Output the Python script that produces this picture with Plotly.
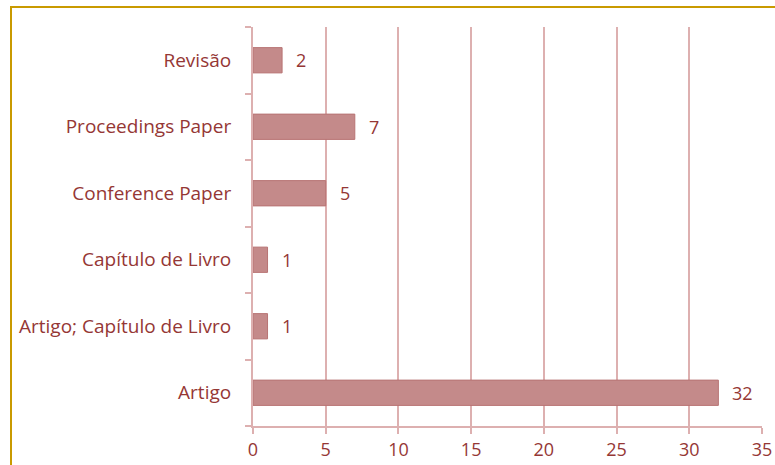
import plotly.graph_objects as go

# Document types and their counts
categories = ["Artigo", "Artigo; Capítulo de Livro", "Capítulo de Livro",
              "Conference Paper", "Proceedings Paper", "Revisão"]
counts = [32, 1, 1, 5, 7, 2]
x_ticks = [0, 5, 10, 15, 20, 25, 30, 35]

W, H = 775, 465
L, R, T, B = 253, 13, 27, 39
text_color = "#953735"
grid_color = "#DDB0B0"
font_family = "'Open Sans', Lato, sans-serif"

fig = go.Figure(go.Bar(
    y=categories,
    x=counts,
    orientation="h",
    width=0.38,
    marker=dict(color="#C48A8A", line=dict(color="#B87474", width=1)),
    hoverinfo="skip",
))

# value labels to the right of each bar
for cat, v in zip(categories, counts):
    fig.add_annotation(
        x=v, y=cat, text=str(v), showarrow=False,
        xanchor="left", xshift=12,
        font=dict(color=text_color, size=18, family=font_family),
    )

pw = W - L - R
ph = H - T - B


def px_x(p):
    return (p - L) / pw


def px_y(p):
    return 1 - (p - T) / ph


fig.update_layout(
    width=W, height=H,
    margin=dict(l=L, r=R, t=T, b=B, pad=0),
    paper_bgcolor="white",
    plot_bgcolor="white",
    showlegend=False,
    font=dict(family=font_family, size=17, color=text_color),
    xaxis=dict(
        range=[0, 35],
        tickvals=x_ticks,
        ticktext=[str(v) for v in x_ticks],
        showgrid=True, gridcolor=grid_color, gridwidth=2,
        zeroline=False,
        showline=True, linecolor=grid_color, linewidth=2,
        ticks="outside", ticklen=6, tickcolor=grid_color, tickwidth=2,
        tickfont=dict(size=18, color=text_color),
        automargin=False,
        fixedrange=True,
    ),
    yaxis=dict(
        showgrid=False, zeroline=False,
        showline=True, linecolor=grid_color, linewidth=2,
        ticks="outside", ticklen=6, tickcolor=grid_color, tickwidth=2,
        tickson="boundaries",
        ticklabelstandoff=16,
        tickfont=dict(size=19, color=text_color),
        automargin=False,
        fixedrange=True,
    ),
    shapes=[
        dict(type="rect", xref="paper", yref="paper",
             x0=px_x(11), x1=px_x(W + 20), y0=px_y(H + 20), y1=px_y(7),
             line=dict(color="#C99A00", width=2), fillcolor="rgba(0,0,0,0)",
             layer="below"),
    ],
)

fig.write_html("out.html")
